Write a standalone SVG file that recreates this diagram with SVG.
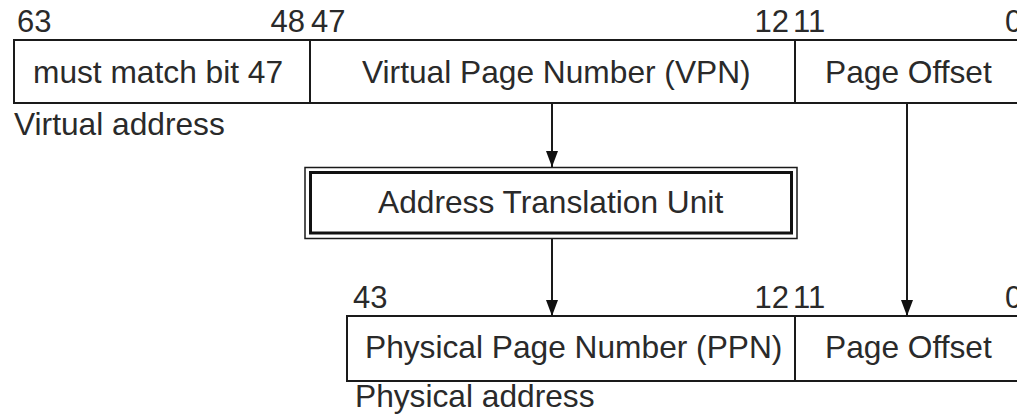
<svg xmlns="http://www.w3.org/2000/svg" width="1017" height="420" viewBox="0 0 1017 420">
  <style>
    text { font-family: "Liberation Sans", Arial, sans-serif; font-size: 31.7px; fill: #2a2a2a; }
    .num { font-size: 31px; }
    .box { fill: none; stroke: #1a1a1a; stroke-width: 2; }
    .conn { stroke: #1a1a1a; stroke-width: 2; fill: none; marker-end: url(#arrow); }
  </style>
  <defs>
    <marker id="arrow" markerWidth="16" markerHeight="12" refX="16" refY="6" orient="auto" markerUnits="userSpaceOnUse" viewBox="0 0 16 12">
      <path d="M0,0 L16,6 L0,12 Z" fill="#111"/>
    </marker>
  </defs>
  <rect width="1017" height="420" fill="#ffffff"/>

  <g id="virtual-address">
    <rect class="box" x="14" y="40" width="1020" height="63"/>
    <line class="box" x1="310" y1="40" x2="310" y2="103"/>
    <line class="box" x1="795" y1="40" x2="795" y2="103"/>
    <text class="num" x="17" y="32">63</text>
    <text class="num" x="305" y="32" text-anchor="end">48</text>
    <text class="num" x="311" y="32">47</text>
    <text class="num" x="789" y="32" text-anchor="end">12</text>
    <text class="num" x="793" y="32">11</text>
    <text class="num" x="1005" y="32">0</text>
    <text x="33" y="83">must match bit 47</text>
    <text x="362" y="83">Virtual Page Number (VPN)</text>
    <text x="825" y="83">Page Offset</text>
    <text x="14" y="135">Virtual address</text>
  </g>

  <g id="address-translation-unit">
    <rect x="305" y="167.5" width="492" height="71" fill="none" stroke="#1a1a1a" stroke-width="1.5"/>
    <rect x="310.5" y="172.5" width="481" height="60.5" fill="none" stroke="#111" stroke-width="3"/>
    <text x="378" y="213">Address Translation Unit</text>
  </g>

  <g id="physical-address">
    <rect class="box" x="347" y="316" width="690" height="65"/>
    <line class="box" x1="795" y1="316" x2="795" y2="381"/>
    <text class="num" x="353" y="308">43</text>
    <text class="num" x="789" y="308" text-anchor="end">12</text>
    <text class="num" x="793" y="308">11</text>
    <text class="num" x="1005" y="308">0</text>
    <text x="365" y="358">Physical Page Number (PPN)</text>
    <text x="825" y="358">Page Offset</text>
    <text x="355" y="407">Physical address</text>
  </g>

  <g id="connectors">
    <line class="conn" x1="552" y1="103" x2="552" y2="167"/>
    <line class="conn" x1="552" y1="238" x2="552" y2="316"/>
    <line class="conn" x1="907" y1="103" x2="907" y2="316"/>
  </g>
</svg>
